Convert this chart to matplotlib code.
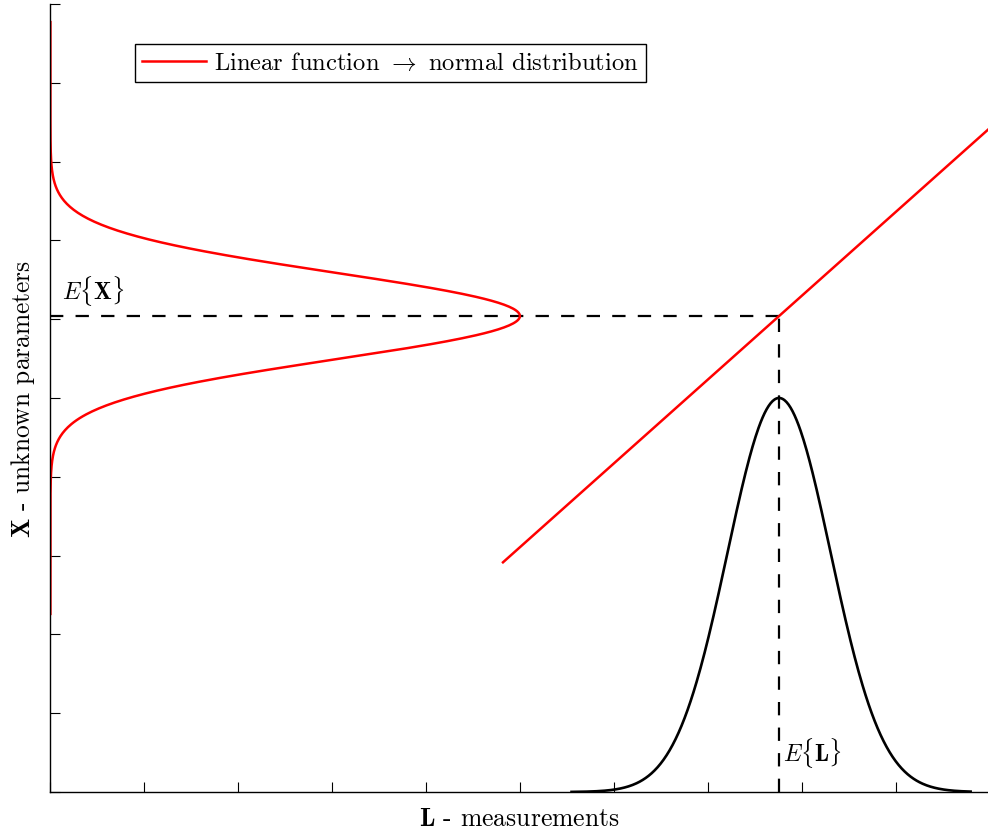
import numpy as np
import matplotlib.pyplot as plt

plt.rcParams['mathtext.fontset'] = 'cm'
plt.rcParams['font.family'] = 'serif'
plt.rcParams['font.serif'] = ['cmr10', 'DejaVu Serif']
plt.rcParams['axes.formatter.use_mathtext'] = True

# --- Werte ---
mean_L = 7.76        # Erwartungswert der Messungen
mean_X = 6.04        # Erwartungswert der Unbekannten
sigma = 0.55         # Standardabweichung beider Verteilungen
peak = 5.0           # Hoehe der Dichtekurven
slope = 1.063        # Steigung der linearen Funktion
line_x = [4.82, 10.5]
L_range = [5.55, 9.8]
X_range = [2.26, 9.77]
ticks = list(range(11))

# Dichtekurven
L = np.linspace(L_range[0], L_range[1], 400)
f_L = peak * np.exp(-(L - mean_L) ** 2 / (2 * sigma ** 2))
X = np.linspace(X_range[0], X_range[1], 600)
f_X = peak * np.exp(-(X - mean_X) ** 2 / (2 * sigma ** 2))
lx = np.array(line_x)
ly = mean_X + slope * (lx - mean_L)

fig = plt.figure(figsize=(9.88, 8.37), dpi=100)
ax = fig.add_axes([50.4 / 988, 44 / 837, 939 / 988, 788 / 837])

dash = dict(color='black', lw=1.6, dashes=(6, 5.5))
ax.plot([0, mean_L], [mean_X, mean_X], **dash)
ax.plot([mean_L, mean_L], [0, mean_X], **dash)

ax.plot(lx, ly, color='red', lw=1.8, label=r'Linear function $\rightarrow$ normal distribution')
ax.plot(f_X, X, color='red', lw=1.8)
ax.plot(L, f_L, color='black', lw=1.9)

ax.text(0.12, mean_X + 0.22, r'$E\{\mathbf{X}\}$', fontsize=17, ha='left', va='baseline')
ax.text(mean_L + 0.04, 0.39, r'$E\{\mathbf{L}\}$', fontsize=17, ha='left', va='baseline')

ax.set_xlim(0, 10)
ax.set_ylim(0, 10)
ax.set_xticks(ticks)
ax.set_yticks(ticks)
ax.set_xticklabels([])
ax.set_yticklabels([])
ax.tick_params(direction='in', length=7, width=0.8)
ax.spines['top'].set_visible(False)
ax.spines['right'].set_visible(False)
for s in ['left', 'bottom']:
    ax.spines[s].set_linewidth(1.0)

ax.set_xlabel(r'$\mathbf{L}$ - measurements', fontsize=18.5, labelpad=7)
ax.set_ylabel(r'$\mathbf{X}$ - unknown parameters', fontsize=18.3, labelpad=6)

leg = ax.legend(loc='upper left', bbox_to_anchor=(135 / 988, 1 - 45 / 837),
                bbox_transform=fig.transFigure, borderaxespad=0, fontsize=17.7,
                fancybox=False, framealpha=1, edgecolor='black',
                handlelength=2.6, handletextpad=0.3, borderpad=0.3)
leg.get_frame().set_linewidth(1.0)

plt.savefig('out.png', dpi=100)
